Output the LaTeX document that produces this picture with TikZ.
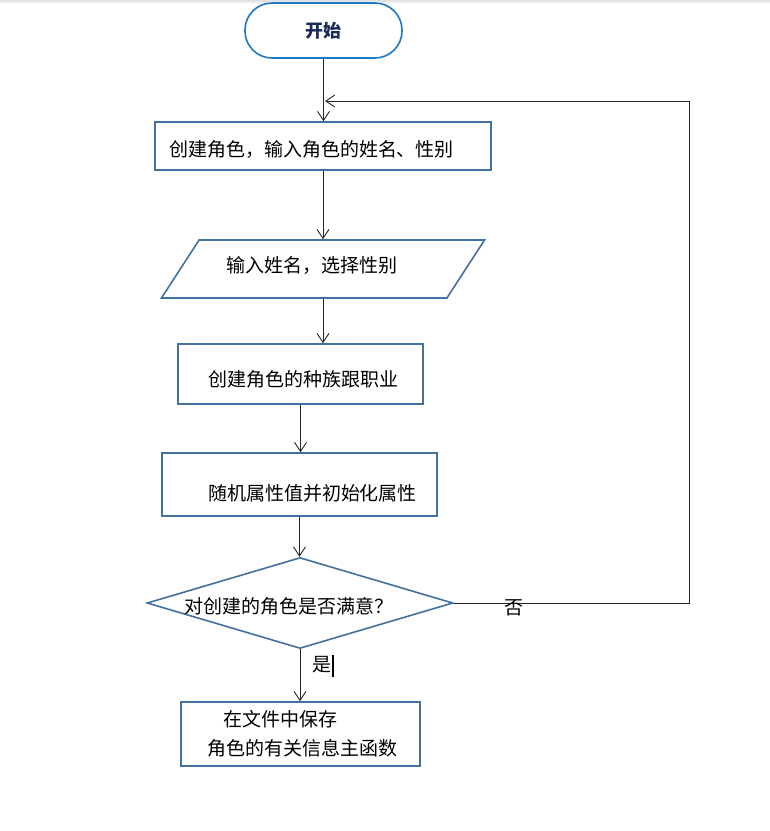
\documentclass[tikz,border=0pt]{standalone}
\usepackage{fontspec}
\newfontfamily\cjk{Noto Sans CJK SC}
\usetikzlibrary{shapes.geometric,arrows.meta}
\definecolor{shapeblue}{HTML}{41719C}
\definecolor{startblue}{HTML}{1F78C4}
\definecolor{navy}{HTML}{1A2A5A}

\begin{document}
\begin{tikzpicture}[
    x=1pt, y=-1pt,
    >={Straight Barb[length=9pt,width=12pt]},
    every node/.style={font=\cjk\fontsize{19}{29}\selectfont},
    flowline/.style={line width=0.9pt, black!85},
    terminal/.style={draw=startblue, line width=1.6pt, rounded corners=27pt,
        minimum width=157pt, minimum height=55pt, text=navy, font=\cjk\bfseries\fontsize{18}{22}\selectfont},
    process/.style={draw=shapeblue, line width=1.6pt},
    io/.style={draw=shapeblue, line width=1.6pt, trapezium, trapezium stretches=true,
        trapezium left angle=41.7, trapezium right angle=138.3,
        minimum width=324pt, minimum height=58pt},
    decision/.style={draw=shapeblue, line width=1.6pt, diamond, aspect=3.36, inner sep=0pt,
        minimum width=306pt, minimum height=91pt},
    label_style/.style={font=\cjk\fontsize{19}{22}\selectfont}
]
\useasboundingbox (0,0) rectangle (770,831);
\shade[top color=black!12, bottom color=white] (0,0) rectangle (770,4);

% Define coordinates
\coordinate (turn) at (689,603);
\coordinate (merge) at (325,101);

% Draw the flow steps
\node[terminal] (start) at (323.5,30.5) {开始};
\node[process, minimum width=336pt, minimum height=48pt, text height=24.4pt, text depth=4pt]
    (create) at (323,146) {\hspace*{-23pt}创建角色，输入角色的姓名、性别};
\node[io, text height=10.4pt, text depth=4pt] (input) at (323,269) {\hspace*{-22pt}输入姓名，选择性别};
\node[process, minimum width=245pt, minimum height=60pt, text height=28.4pt, text depth=4pt]
    (race) at (300.5,374) {\hspace*{6pt}创建角色的种族跟职业};
\node[process, minimum width=275pt, minimum height=63pt, text height=36.4pt, text depth=4pt]
    (attr) at (299.5,484.5) {\hspace*{26pt}随机属性值并初始化属性};
\node[decision, text height=24.4pt, text depth=4pt] (check) at (300,603) {\hspace*{-22pt}对创建的角色是否满意？};
\node[process, minimum width=239pt, minimum height=64pt, align=left]
    (save) at (300.5,734) {\hspace*{20pt}在文件中保存\\\hspace*{4pt}角色的有关信息主函数};

% Draw the connectors
\draw[flowline, ->] (start.south) -- (start.south |- create.north);
\draw[flowline, ->] (create.south) -- (create.south |- input.north);
\draw[flowline, ->] (input.south) -- (input.south |- race.north);
\draw[flowline, ->] (race.south) -- (race.south |- attr.north);
\draw[flowline, ->] (attr.south) -- (attr.south |- check.north);
\draw[flowline, ->] (check.south) -- (check.south |- save.north);
\draw[flowline, ->] (check.east) -- (turn) |- (merge);

% Branch labels
\node[label_style] (no) at (514,608) {否};
\node[label_style] (yes) at (322,665) {是};
\draw[line width=1.6pt] (333,655) -- (333,677);

\end{tikzpicture}
\end{document}
